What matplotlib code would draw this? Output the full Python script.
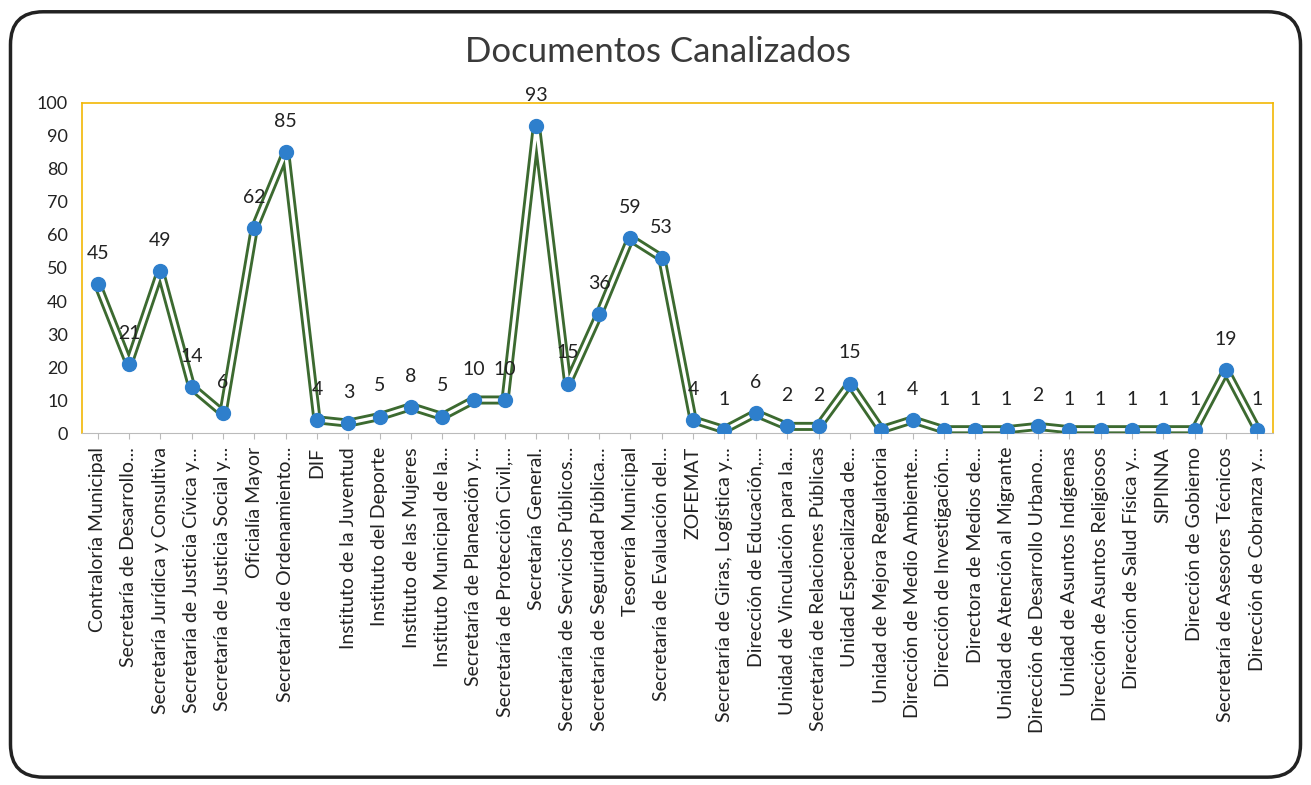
import matplotlib.pyplot as plt
import numpy as np
from matplotlib.patches import FancyBboxPatch

plt.rcParams['font.family'] = ['Lato', 'DejaVu Sans']

labels = [
    'Contraloría Municipal', 'Secretaría de Desarrollo...',
    'Secretaría Jurídica y Consultiva', 'Secretaría de Justicia Cívica y...',
    'Secretaría de Justicia Social y...', 'Oficialía Mayor',
    'Secretaría de Ordenamiento...', 'DIF', 'Instituto de la Juventud',
    'Instituto del Deporte', 'Instituto de las Mujeres',
    'Instituto Municipal de la...', 'Secretaría de Planeación y...',
    'Secretaría de Protección Civil,...', 'Secretaría General.',
    'Secretaría de Servicios Públicos...', 'Secretaría de Seguridad Pública...',
    'Tesorería Municipal', 'Secretaría de Evaluación del...', 'ZOFEMAT',
    'Secretaría de Giras, Logística y...', 'Dirección de Educación,...',
    'Unidad de Vinculación para la...', 'Secretaría de Relaciones Públicas',
    'Unidad Especializada de...', 'Unidad de Mejora Regulatoria',
    'Dirección de Medio Ambiente...', 'Dirección de Investigación...',
    'Directora de Medios de...', 'Unidad de Atención al Migrante',
    'Dirección de Desarrollo Urbano...', 'Unidad de Asuntos Indígenas',
    'Dirección de Asuntos Religiosos', 'Dirección de Salud Física y...',
    'SIPINNA', 'Dirección de Gobierno', 'Secretaría de Asesores Técnicos',
    'Dirección de Cobranza y...',
]
values = [45, 21, 49, 14, 6, 62, 85, 4, 3, 5, 8, 5, 10, 10, 93, 15, 36, 59, 53,
          4, 1, 6, 2, 2, 15, 1, 4, 1, 1, 1, 2, 1, 1, 1, 1, 1, 19, 1]

x = np.arange(len(labels))

fig = plt.figure(figsize=(13.11, 7.85), dpi=100)
ax = fig.add_axes([0.0625, 0.4484, 0.9085, 0.4204])

# outer rounded frame
frame = FancyBboxPatch((0.008, 0.01), 0.984, 0.975, boxstyle='round,pad=0,rounding_size=0.025',
                       transform=fig.transFigure, fill=False, edgecolor='#222222', linewidth=2.5,
                       mutation_aspect=1311/785)
fig.patches.append(frame)

# striped line: dark green outer, white center
ax.plot(x, values, color='#3c6a30', linewidth=6.5, solid_joinstyle='round', zorder=2)
ax.plot(x, values, color='white', linewidth=2.4, solid_joinstyle='round', zorder=3)
ax.plot(x, values, linestyle='none', marker='o', markersize=10,
        color='#2e7fcc', zorder=4)

for xi, v in zip(x, values):
    ax.annotate(str(v), (xi, v), xytext=(0, 22), textcoords='offset points',
                ha='center', va='center', fontsize=14, color='#222222')

ax.set_xlim(-0.5, len(labels) - 0.5)
ax.set_ylim(0, 100)
ax.set_yticks(range(0, 101, 10))
ax.set_xticks(x)
ax.set_xticklabels(labels, rotation=90, fontsize=14, color='#222222')
ax.tick_params(axis='y', length=0, labelsize=13, labelcolor='#222222', pad=10)
ax.tick_params(axis='x', length=4, color='#bbbbbb', pad=6)

for side in ['top', 'right', 'left']:
    ax.spines[side].set_color('#f2b705')
    ax.spines[side].set_linewidth(1.2)
ax.spines['bottom'].set_color('#bbbbbb')

fig.text(0.502, 0.934, 'Documentos Canalizados', ha='center', va='center',
         fontsize=25, color='#3a3a3a')

plt.savefig('out.png', dpi=100)
